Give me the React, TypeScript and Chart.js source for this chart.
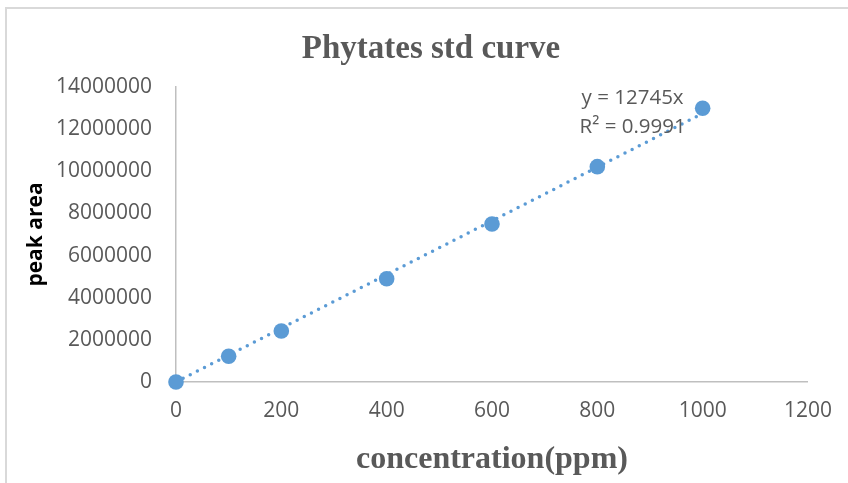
import React, { useEffect, useRef } from "react";
import { Chart, registerables } from "chart.js";

Chart.register(...registerables);

// Standard curve: phytate concentration (ppm) vs. measured peak area
const concentrations = [0, 100, 200, 400, 600, 800, 1000];
const peakAreas = [0, 1220000, 2420000, 4900000, 7500000, 10220000, 12990000];

// Linear fit through the origin
const slope = 12745;
const rSquared = 0.9991;
const trendRange = [0, 1000];

const xTicks = [0, 200, 400, 600, 800, 1000, 1200];
const yTicks = [0, 2000000, 4000000, 6000000, 8000000, 10000000, 12000000, 14000000];

const BLUE = "#5b9bd5";
const GREY_TEXT = "#595959";
const AXIS_LINE = "#bfbfbf";
const SANS = "'Open Sans', 'Liberation Sans', sans-serif";
const SERIF = "'Liberation Serif', 'Times New Roman', serif";

const equationLabel = {
  id: "equationLabel",
  afterDatasetsDraw(chart: any) {
    const { ctx, scales } = chart;
    const x = scales.x.getPixelForValue(867);
    const y1 = scales.y.getPixelForValue(13480000);
    const y2 = scales.y.getPixelForValue(12100000);
    ctx.save();
    ctx.font = `20.5px ${SANS}`;
    ctx.fillStyle = GREY_TEXT;
    ctx.textAlign = "center";
    ctx.textBaseline = "middle";
    ctx.fillText(`y = ${slope}x`, x, y1);
    ctx.fillText(`R² = ${rSquared}`, x, y2);
    ctx.restore();
  },
};

export default function App() {
  const canvasRef = useRef<HTMLCanvasElement | null>(null);

  useEffect(() => {
    if (!canvasRef.current) return;
    const chart = new Chart(canvasRef.current, {
      type: "scatter",
      data: {
        datasets: [
          {
            label: "trend",
            data: trendRange.map((c) => ({ x: c, y: slope * c })),
            showLine: true,
            borderColor: BLUE,
            borderWidth: 3.5,
            borderDash: [0, 8],
            borderCapStyle: "round",
            pointRadius: 0,
            fill: false,
            clip: false,
            order: 2,
          },
          {
            label: "peak area",
            data: concentrations.map((c, i) => ({ x: c, y: peakAreas[i] })),
            backgroundColor: BLUE,
            borderColor: BLUE,
            pointRadius: 7.8,
            pointHoverRadius: 7.8,
            borderWidth: 0,
            clip: false,
            order: 1,
          },
        ],
      },
      options: {
        responsive: false,
        animation: false,
        devicePixelRatio: 1,
        layout: { padding: { left: 14, right: 0, top: 0, bottom: 0 } },
        plugins: {
          legend: { display: false },
          tooltip: { enabled: false },
          title: {
            display: true,
            text: "Phytates std curve",
            color: GREY_TEXT,
            font: { family: SERIF, size: 33, weight: "bold", lineHeight: 1.2 },
            padding: { top: 29.2, bottom: 18.2 },
          },
        },
        scales: {
          x: {
            type: "linear",
            min: 0,
            max: 1200,
            afterBuildTicks: (scale: any) => {
              scale.ticks = xTicks.map((v) => ({ value: v }));
            },
            afterFit: (scale: any) => {
              scale.height = 101;
            },
            grid: { display: false, drawTicks: false },
            border: { display: true, color: AXIS_LINE, width: 1.5 },
            ticks: {
              color: GREY_TEXT,
              font: { family: SANS, size: 21 },
              padding: 16,
              callback: (v: any) => String(v),
            },
            title: {
              display: true,
              text: "concentration(ppm)",
              color: GREY_TEXT,
              font: { family: SERIF, size: 32, weight: "bold", lineHeight: 1.2 },
              padding: { top: 0, bottom: 4.5 },
            },
          },
          y: {
            type: "linear",
            min: 0,
            max: 14000000,
            afterBuildTicks: (scale: any) => {
              scale.ticks = yTicks.map((v) => ({ value: v }));
            },
            afterFit: (scale: any) => {
              scale.width = 162;
            },
            grid: { display: false, drawTicks: false },
            border: { display: true, color: AXIS_LINE, width: 1.5 },
            ticks: {
              color: GREY_TEXT,
              font: { family: SANS, size: 21 },
              padding: 24,
              callback: (v: any) => String(v),
            },
            title: {
              display: true,
              text: "peak area",
              color: "#000000",
              font: { family: SANS, size: 21, weight: "bold", lineHeight: 1.2 },
              padding: { top: 9.4, bottom: 0 },
            },
          },
        },
      },
      plugins: [equationLabel],
    });
    return () => chart.destroy();
  }, []);

  return (
    <div
      style={{
        position: "fixed",
        left: 0,
        top: 0,
        width: 848,
        height: 483,
        overflow: "hidden",
        background: "#ffffff",
      }}
    >
      <div
        style={{
          position: "absolute",
          left: 5,
          top: 7,
          width: 900,
          height: 600,
          border: "2px solid #d9d9d9",
          boxSizing: "border-box",
        }}
      />
      <canvas
        ref={canvasRef}
        width={848}
        height={483}
        style={{ position: "absolute", left: 0, top: 0, width: 848, height: 483 }}
      />
    </div>
  );
}
